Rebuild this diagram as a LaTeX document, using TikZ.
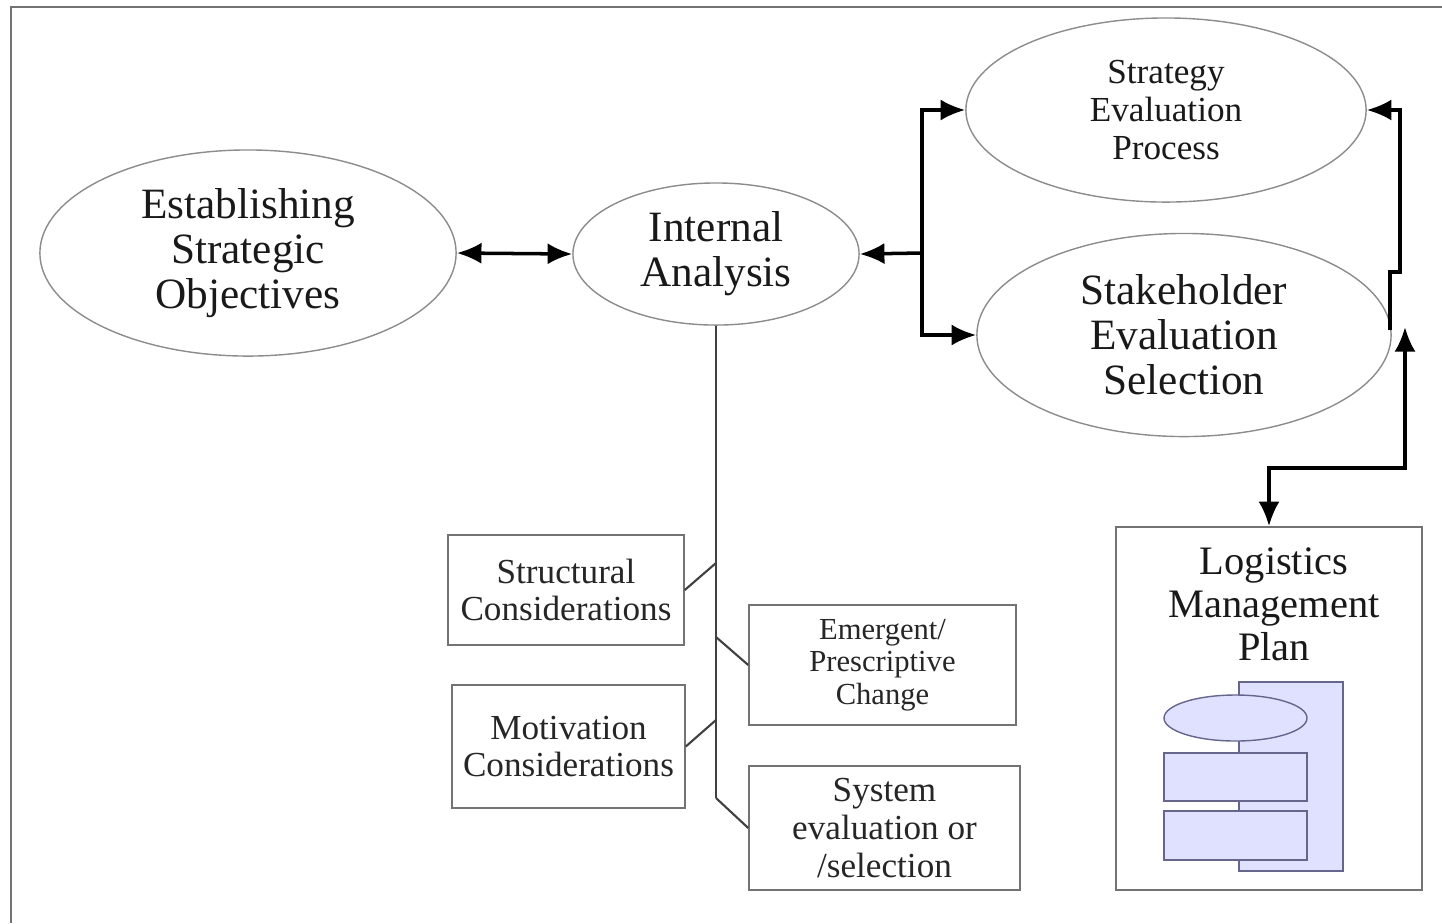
\documentclass[tikz,border=0pt]{standalone}
\usepackage{fontspec}
\setmainfont{Liberation Serif}
\usepackage{tikz}
\usetikzlibrary{arrows.meta}
\usetikzlibrary{shapes.geometric}
\tikzset{
    MyOval/.style={ellipse,draw=black!45,thin,inner sep=0pt,align=center,text=black!90},
    MyBox/.style={rectangle,draw=black!55,thin,inner sep=0pt,align=center,text=black!85}    }
\newcommand\TxtBig{\fontsize{12.3}{12.75}\selectfont}
\newcommand\TxtMid{\fontsize{10}{10.75}\selectfont}
\newcommand\TxtSmall{\fontsize{8.7}{9.3}\selectfont}

\begin{document}
\begin{tikzpicture}[x=0.01cm,y=-0.01cm,
    link/.style={line width=1pt,black},
    trunk/.style={line width=0.6pt,black!75},
    tip/.style={-{Latex[length=7pt,width=6pt]}},
    tips/.style={{Latex[length=7pt,width=6pt]}-{Latex[length=7pt,width=6pt]}}]
    \def\clrframe{black!55}
    \def\clricon{blue!12!white}
    \def\clricond{blue!25!black!60}

    \useasboundingbox (0,0) rectangle (1442,923);
    \draw[\clrframe,line width=0.6pt] (1442,7) -- (11,7) -- (11,923); % page frame

    % ovals
    \node[MyOval,font=\TxtBig,minimum width=4.16cm,minimum height=2.06cm] (eso) at (248,253)
        {Establishing\\Strategic\\Objectives};
    \node[MyOval,font=\TxtBig,minimum width=2.86cm,minimum height=1.42cm] (ia) at (716,254)
        {Internal\\Analysis};
    \node[MyOval,font=\TxtMid,minimum width=4.00cm,minimum height=1.84cm] (sep) at (1166,110)
        {Strategy\\Evaluation\\Process};
    \node[MyOval,font=\TxtBig,minimum width=4.14cm,minimum height=2.03cm] (ses) at (1184,335)
        {Stakeholder\\Evaluation\\Selection};

    % boxes
    \node[MyBox,font=\TxtMid,minimum width=2.36cm,minimum height=1.10cm] (sc) at (566,590)
        {Structural\\Considerations};
    \node[MyBox,font=\TxtMid,minimum width=2.33cm,minimum height=1.23cm] (mc) at (568.5,746.5)
        {Motivation\\Considerations};
    \node[MyBox,font=\TxtSmall,minimum width=2.67cm,minimum height=1.20cm] (epc) at (882.5,665)
        {Emergent/\\Prescriptive\\Change};
    \node[MyBox,font=\TxtMid,minimum width=2.71cm,minimum height=1.24cm] (sys) at (884.5,828)
        {System\\evaluation or\\/selection};
    \node[MyBox,minimum width=3.06cm,minimum height=3.63cm] (lmp) at (1269,708.5) {};
    \node[align=center,inner sep=0pt,text=black!90,font=\fontsize{11.5}{12.2}\selectfont] (lmpTxt) at (1274,604)
        {Logistics\\Management\\Plan};

    % flowchart icon
    \filldraw[fill=\clricon,draw=\clricond,thin] (1239,682) rectangle (1343,871);
    \filldraw[fill=\clricon,draw=\clricond,thin] (1235.5,718) ellipse [x radius=71.5,y radius=23];
    \filldraw[fill=\clricon,draw=\clricond,thin] (1164,753) rectangle (1307,801);
    \filldraw[fill=\clricon,draw=\clricond,thin] (1164,811) rectangle (1307,860);

    % thick connectors
    \draw[link,tips] (eso.east) -- (ia.west);
    \coordinate (hub) at (922,253);
    \draw[link,tip] (hub) -- (ia.east);
    \draw[link,tip] (hub) |- (sep.west);
    \draw[link,tip] (hub) |- (ses.west);
    \draw[link,tip] (1390,330) -- (1390,272) -- (1400,272) |- (sep.east);
    \coordinate (sesTip) at (1405,327);
    \draw[link,tips] (lmp.north) |- (1405,468) -- (sesTip);

    % internal analysis trunk
    \draw[trunk] (ia.south) -- (716,798) coordinate (trunkEnd);
    \draw[trunk] (716,563) -- (sc.east);
    \draw[trunk] (716,637) -- (epc.west);
    \draw[trunk] (716,720) -- (mc.east);
    \draw[trunk] (trunkEnd) -- (sys.west);
\end{tikzpicture}
\end{document}
